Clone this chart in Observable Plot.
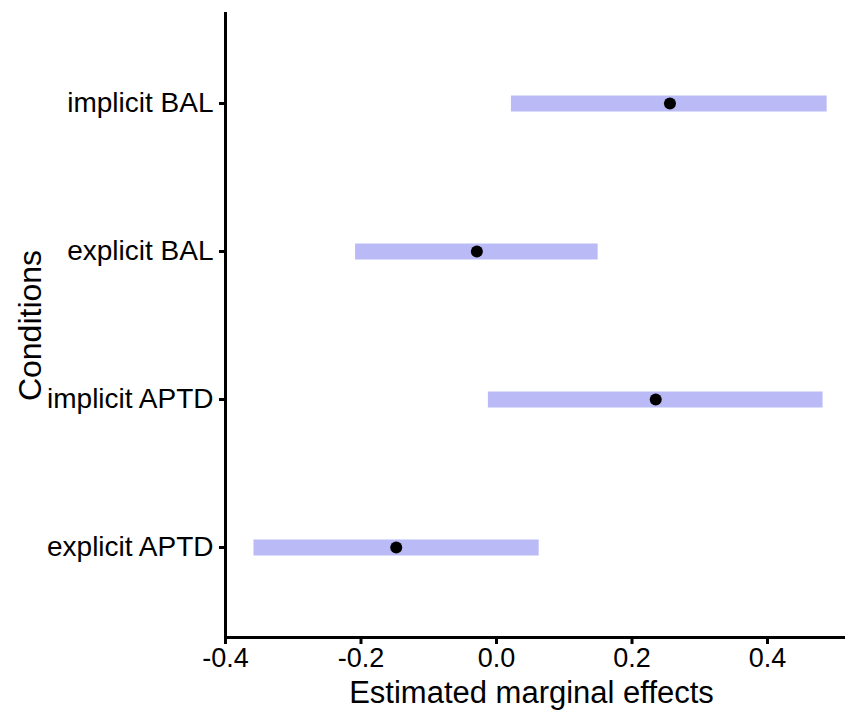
<!DOCTYPE html>
<html>
<head>
<meta charset="utf-8">
<script src="https://cdn.jsdelivr.net/npm/d3@7"></script>
<script src="https://cdn.jsdelivr.net/npm/@observablehq/plot@0.6"></script>
<style>
  html, body { margin: 0; padding: 0; background: #fff; }
  svg { font-family: "Liberation Sans", Arial, sans-serif; }
</style>
</head>
<body>
<div id="chart"></div>
<script>
const conditions = ["implicit BAL", "explicit BAL", "implicit APTD", "explicit APTD"];
const estimates  = [0.256, -0.029, 0.235, -0.148];
const lowers     = [0.022, -0.208, -0.012, -0.358];
const uppers     = [0.488, 0.150, 0.482, 0.063];
const xTicks     = [-0.4, -0.2, 0.0, 0.2, 0.4];

const data = conditions.map((c, i) => ({cond: c, est: estimates[i], lo: lowers[i], hi: uppers[i]}));

const chart = Plot.plot({
  width: 845,
  height: 711,
  marginTop: 13,
  marginBottom: 74,
  marginLeft: 225,
  marginRight: 0,
  style: {fontFamily: "'Liberation Sans', Arial, sans-serif", color: "black", background: "white"},
  x: {domain: [-0.4, 0.5151], range: [225, 845]},
  y: {type: "point", domain: conditions, padding: 0.6},
  marks: [
    Plot.ruleY(data, {y: "cond", x1: "lo", x2: "hi", stroke: "#babaf7", strokeWidth: 16}),
    Plot.dot(data, {x: "est", y: "cond", r: 6, fill: "black", stroke: "none"}),
    Plot.frame({anchor: "left", stroke: "black", strokeWidth: 3}),
    Plot.frame({anchor: "bottom", stroke: "black", strokeWidth: 3}),
    Plot.axisX({ticks: xTicks, tickFormat: d => d.toFixed(1), tickSize: 7, tickPadding: 3,
      fontSize: 27, strokeWidth: 3, label: null, fill: "black"}),
    Plot.axisY({tickSize: 6, tickPadding: 6, fontSize: 28, strokeWidth: 3, label: null, fill: "black"}),
    Plot.text(["Estimated marginal effects"], {frameAnchor: "bottom", text: d => d, fontSize: 31,
      lineAnchor: "bottom", dy: 65, dx: -4, fill: "black"}),
    Plot.text(["Conditions"], {frameAnchor: "left", text: d => d, rotate: -90, dx: -195, fontSize: 32,
      textAnchor: "middle", lineAnchor: "middle", fill: "black"})
  ]
});
document.getElementById("chart").appendChild(chart);
</script>
</body>
</html>
